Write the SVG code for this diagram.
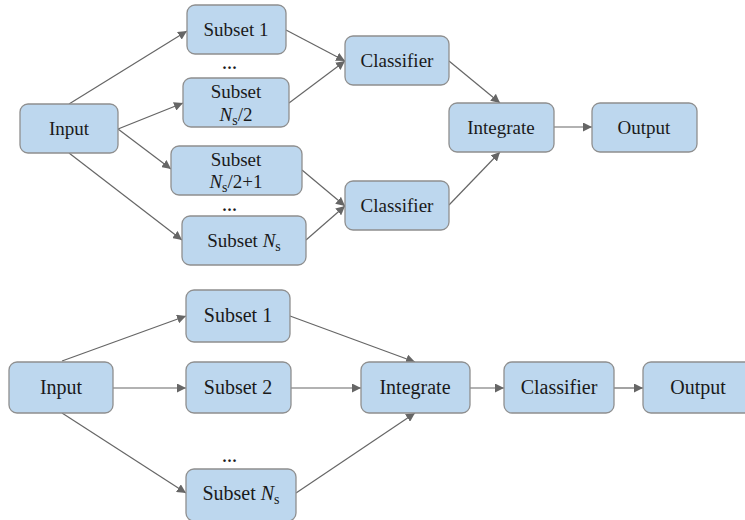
<svg xmlns="http://www.w3.org/2000/svg" width="745" height="520" viewBox="0 0 745 520">
<style>
.box{fill:#BDD7EE;stroke:#8F8F8F;stroke-width:1.3}
text{font-family:'Liberation Serif','DejaVu Serif',serif;font-size:19px;fill:#1a1a1a;text-anchor:middle}
text.b{font-size:20px}
.i{font-style:italic}
.sub{font-size:14px}
.dots{font-size:16px;letter-spacing:1px;font-weight:bold}
.c line{stroke:#666;stroke-width:1.2;marker-end:url(#ah)}
</style>
<defs>
<marker id="ah" viewBox="0 0 10 10" refX="10" refY="5" markerWidth="9" markerHeight="9" markerUnits="userSpaceOnUse" orient="auto">
<path d="M0,0 L10,5 L0,10 z" fill="#666"/>
</marker>
</defs>
<rect width="745" height="520" fill="#fff"/>

<g id="connectors" class="c">
<line x1="69" y1="104" x2="187" y2="31"/>
<line x1="118" y1="129" x2="183" y2="103"/>
<line x1="118" y1="129" x2="171" y2="169"/>
<line x1="69" y1="153" x2="182" y2="240"/>
<line x1="286" y1="30" x2="345" y2="61"/>
<line x1="289" y1="103" x2="345" y2="61"/>
<line x1="302" y1="170" x2="345" y2="206"/>
<line x1="306" y1="240" x2="345" y2="206"/>
<line x1="449" y1="61" x2="500" y2="103"/>
<line x1="449" y1="205" x2="500" y2="152"/>
<line x1="554" y1="127" x2="592" y2="127"/>

<line x1="62" y1="361" x2="186" y2="316"/>
<line x1="113" y1="388" x2="186" y2="388"/>
<line x1="62" y1="413" x2="186" y2="493"/>
<line x1="290" y1="316" x2="415" y2="362"/>
<line x1="291" y1="388" x2="361" y2="388"/>
<line x1="296" y1="493" x2="415" y2="413"/>
<line x1="470" y1="388" x2="504" y2="388"/>
<line x1="614" y1="388" x2="643" y2="388"/>
</g>

<g id="top-input"><rect class="box" x="20" y="104" width="98" height="49" rx="8"/><text x="69" y="135">Input</text></g>
<g id="top-subset1"><rect class="box" x="187" y="5" width="99" height="49" rx="8"/><text x="236" y="36">Subset 1</text></g>
<g id="top-dots1"><text class="dots" x="230" y="69">...</text></g>
<g id="top-subset-half"><rect class="box" x="183" y="78" width="106" height="49" rx="8"/><text x="236" y="98">Subset</text><text x="236" y="121"><tspan class="i">N</tspan><tspan class="sub" dy="4">s</tspan><tspan dy="-4">/2</tspan></text></g>
<g id="top-subset-half1"><rect class="box" x="171" y="146" width="131" height="49" rx="8"/><text x="236" y="166">Subset</text><text x="236" y="188"><tspan class="i">N</tspan><tspan class="sub" dy="4">s</tspan><tspan dy="-4">/2+1</tspan></text></g>
<g id="top-dots2"><text class="dots" x="230" y="211">...</text></g>
<g id="top-subsetNs"><rect class="box" x="182" y="216" width="124" height="49" rx="8"/><text x="244" y="247">Subset <tspan class="i">N</tspan><tspan class="sub" dy="4">s</tspan></text></g>
<g id="top-classifier1"><rect class="box" x="345" y="36" width="104" height="49" rx="8"/><text x="397" y="67">Classifier</text></g>
<g id="top-classifier2"><rect class="box" x="345" y="181" width="104" height="49" rx="8"/><text x="397" y="212">Classifier</text></g>
<g id="top-integrate"><rect class="box" x="449" y="103" width="105" height="49" rx="8"/><text x="501" y="134">Integrate</text></g>
<g id="top-output"><rect class="box" x="592" y="103" width="105" height="49" rx="8"/><text x="644" y="134">Output</text></g>

<g id="bot-input"><rect class="box" x="9" y="362" width="104" height="51" rx="8"/><text class="b" x="61" y="394">Input</text></g>
<g id="bot-subset1"><rect class="box" x="186" y="290" width="104" height="52" rx="8"/><text class="b" x="238" y="322">Subset 1</text></g>
<g id="bot-subset2"><rect class="box" x="186" y="362" width="105" height="51" rx="8"/><text class="b" x="238" y="394">Subset 2</text></g>
<g id="bot-dots"><text class="dots" x="230" y="462">...</text></g>
<g id="bot-subsetNs"><rect class="box" x="186" y="469" width="110" height="52" rx="8"/><text class="b" x="241" y="500">Subset <tspan class="i">N</tspan><tspan class="sub" dy="4">s</tspan></text></g>
<g id="bot-integrate"><rect class="box" x="361" y="362" width="109" height="51" rx="8"/><text class="b" x="415" y="394">Integrate</text></g>
<g id="bot-classifier"><rect class="box" x="504" y="362" width="110" height="51" rx="8"/><text class="b" x="559" y="394">Classifier</text></g>
<g id="bot-output"><rect class="box" x="643" y="362" width="112" height="51" rx="8"/><text class="b" x="698" y="394">Output</text></g>
</svg>
